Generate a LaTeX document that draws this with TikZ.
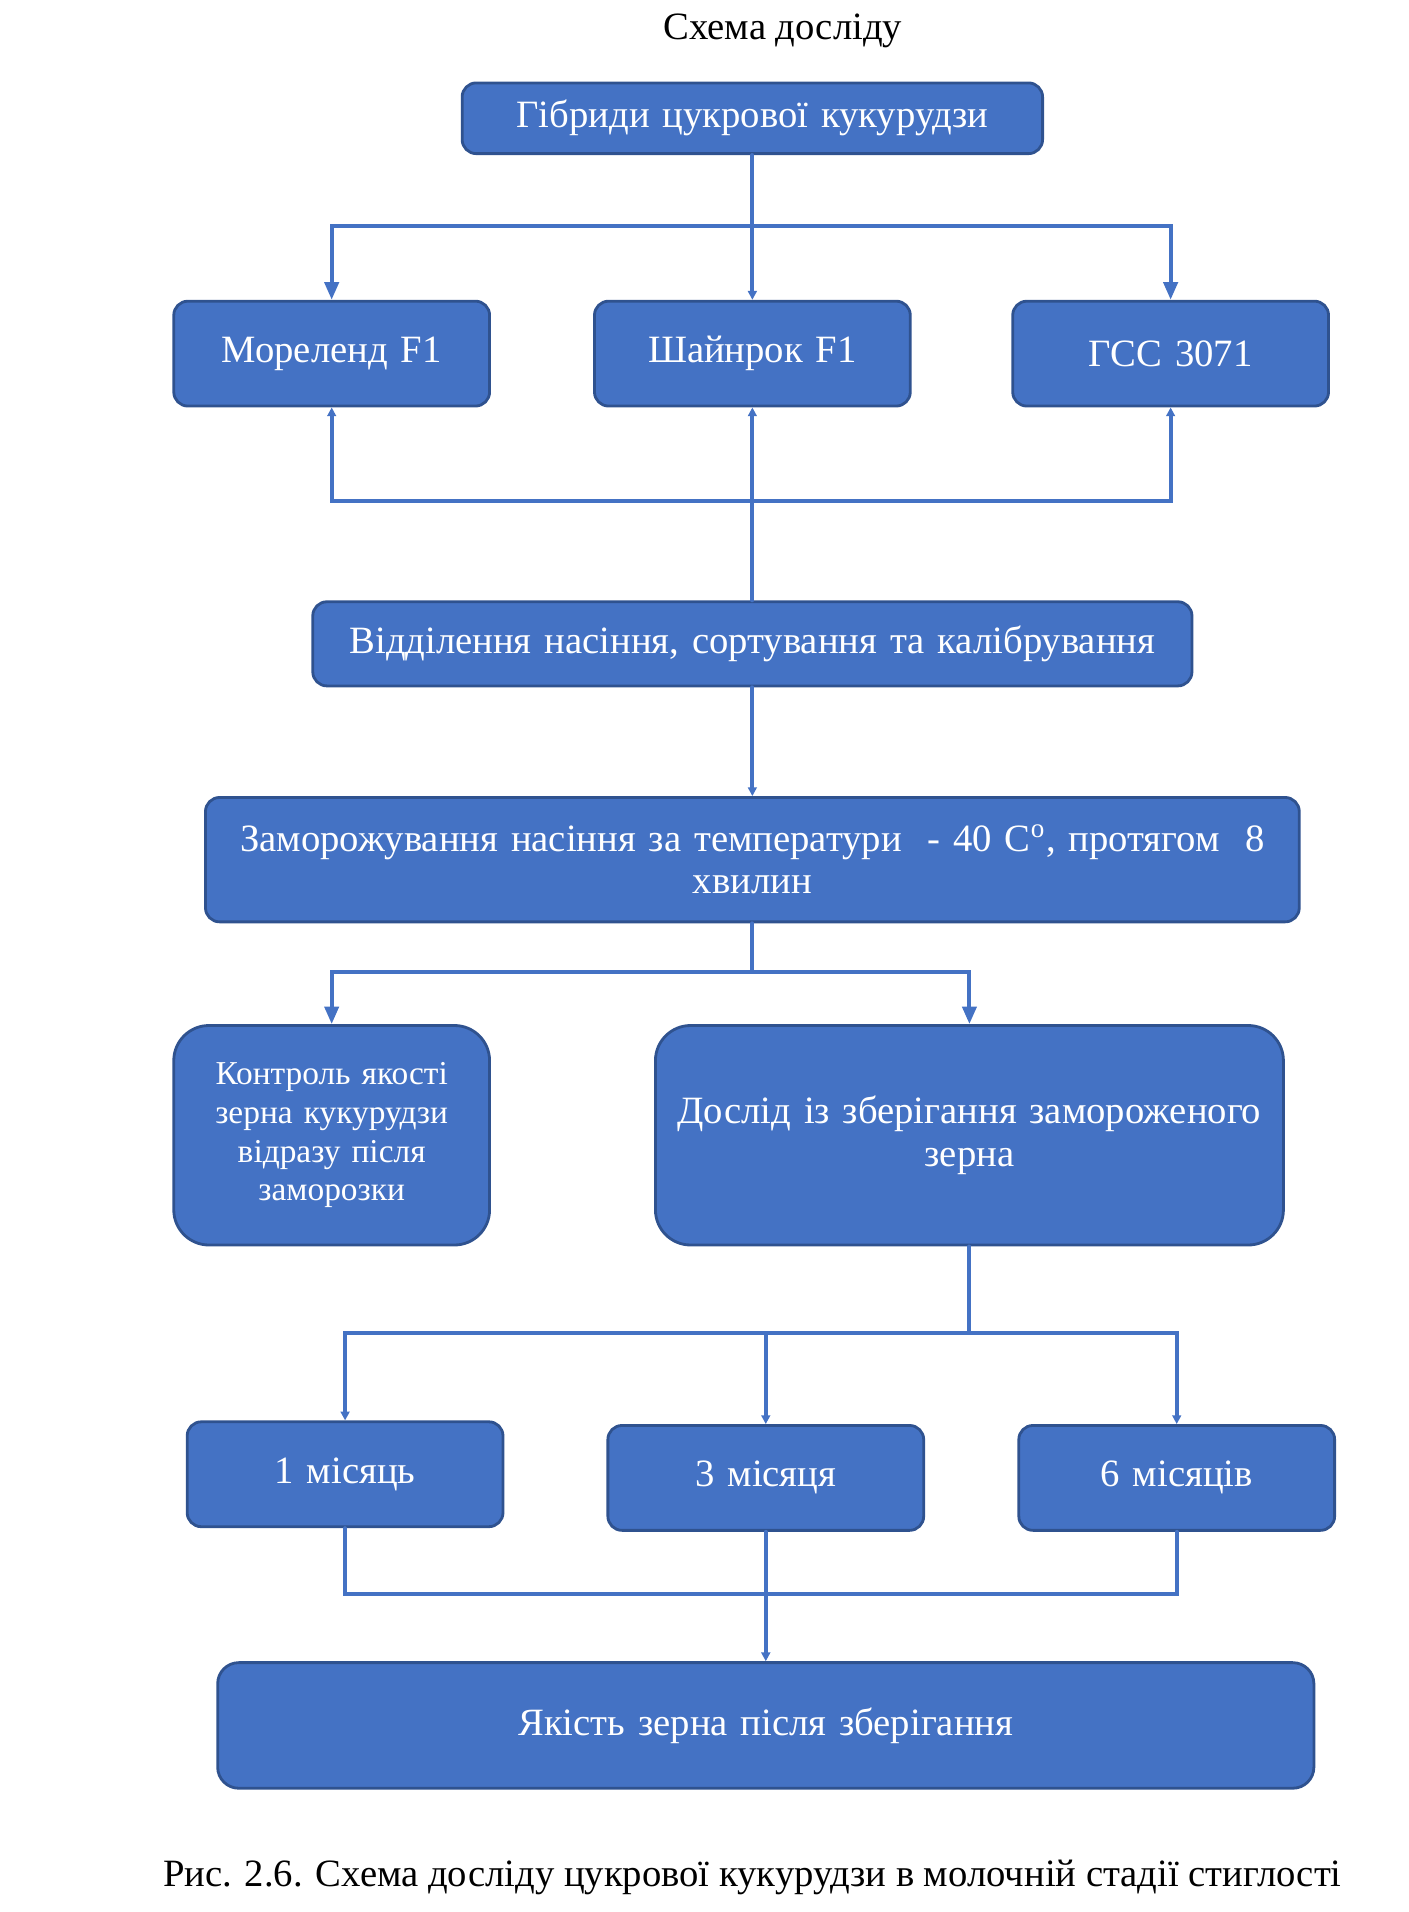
\documentclass[tikz,border=0pt]{standalone}
\usepackage{fontspec}
\setmainfont{Liberation Serif}
\usetikzlibrary{arrows.meta}

\begin{document}
\begin{tikzpicture}
		[x=0.01219cm,y=-0.01219cm,line cap=round,
		%Styles
		box/.style={draw=boxborder,fill=boxblue,text=white,align=center,rounded corners=4pt,inner sep=2pt,line width=0.8pt,
			font=\fontsize{11}{12}\selectfont},
		boxsize/.style 2 args={minimum width=#1*0.01219cm,minimum height=#2*0.01219cm,text width=#1*0.01219cm-12pt},
		conn/.style={draw=boxblue,line width=1.1pt},
		arr/.style={conn,-{Triangle[length=5pt,width=4pt]}},
		small arr/.style={conn,-{Triangle[length=2.5pt,width=2.5pt]}},
		plain text/.style={font=\fontsize{11}{12}\selectfont}
		]
		
		%Colors
		\definecolor{boxblue}{HTML}{4472C4}
		\definecolor{boxborder}{HTML}{2F528F}
		
		\useasboundingbox (0,0) rectangle (1155,1568);
		
		%The graphic
		\node[plain text] (title) at (642,25) {Схема досліду};
		
		\node[box,boxsize={476}{58}] (hyb) at (617,97) {Гібриди цукрової кукурудзи};
		
		\node[box,boxsize={259}{86}] (mor) at (272,290) {Мореленд F1};
		\node[box,boxsize={259}{86}] (shy) at (617,290) {Шайнрок F1};
		\node[box,boxsize={259}{86}] (gss) at (960,290) {ГСС 3071};
		
		\node[box,boxsize={721}{69}] (sep) at (617,528) {Відділення насіння, сортування та калібрування};
		\node[box,boxsize={897}{102}] (frz) at (617,705) {Заморожування насіння за температури\ \ - 40 С\textsuperscript{o}, протягом\ \ 8\\хвилин};
		
		\node[box,boxsize={259}{180},rounded corners=10pt,font=\fontsize{9.5}{11}\selectfont] (ctl) at (272,931)
			{Контроль якості\\зерна кукурудзи\\відразу після\\заморозки};
		\node[box,boxsize={515}{180},rounded corners=10pt] (exp) at (795,931) {Дослід із зберігання замороженого\\зерна};
		
		\node[box,boxsize={259}{86}] (m1) at (283,1209) {1 місяць};
		\node[box,boxsize={259}{86}] (m3) at (628,1212) {3 місяця};
		\node[box,boxsize={259}{86}] (m6) at (965,1212) {6 місяців};
		
		\node[box,boxsize={899}{103},rounded corners=6pt] (qual) at (628,1415) {Якість зерна після зберігання};
		
		\node[plain text] (caption) at (617,1540) {Рис. 2.6. Схема досліду цукрової кукурудзи в молочній стадії стиглості};
		
		%Connectors
		\coordinate (top bus) at (617,185);
		\draw[conn] (hyb.south) -- (top bus);
		\draw[arr] (top bus) -| (mor.north);
		\draw[arr] (top bus) -| (gss.north);
		\draw[small arr] (top bus) -- (shy.north);
		
		\coordinate (low bus) at (617,411);
		\draw[small arr] (low bus) -| (mor.south);
		\draw[small arr] (low bus) -| (gss.south);
		\draw[small arr] (low bus) -- (shy.south);
		\draw[conn] (low bus) -- (sep.north);
		
		\draw[small arr] (sep.south) -- (frz.north);
		
		\coordinate (frz bus) at (617,797);
		\draw[conn] (frz.south) -- (frz bus);
		\draw[arr] (frz bus) -| (ctl.north);
		\draw[arr] (frz bus) -| (exp.north);
		
		\coordinate (exp bus) at (795,1093);
		\draw[conn] (exp.south) -- (exp bus);
		\draw[small arr] (exp bus) -| (m1.north);
		\draw[small arr] (exp bus) -| (m3.north);
		\draw[small arr] (exp bus) -| (m6.north);
		
		\coordinate (month bus) at (628,1307);
		\draw[conn] (m1.south) |- (month bus);
		\draw[conn] (m6.south) |- (month bus);
		\draw[small arr] (m3.south) -- (qual.north);
	\end{tikzpicture}
\end{document}
